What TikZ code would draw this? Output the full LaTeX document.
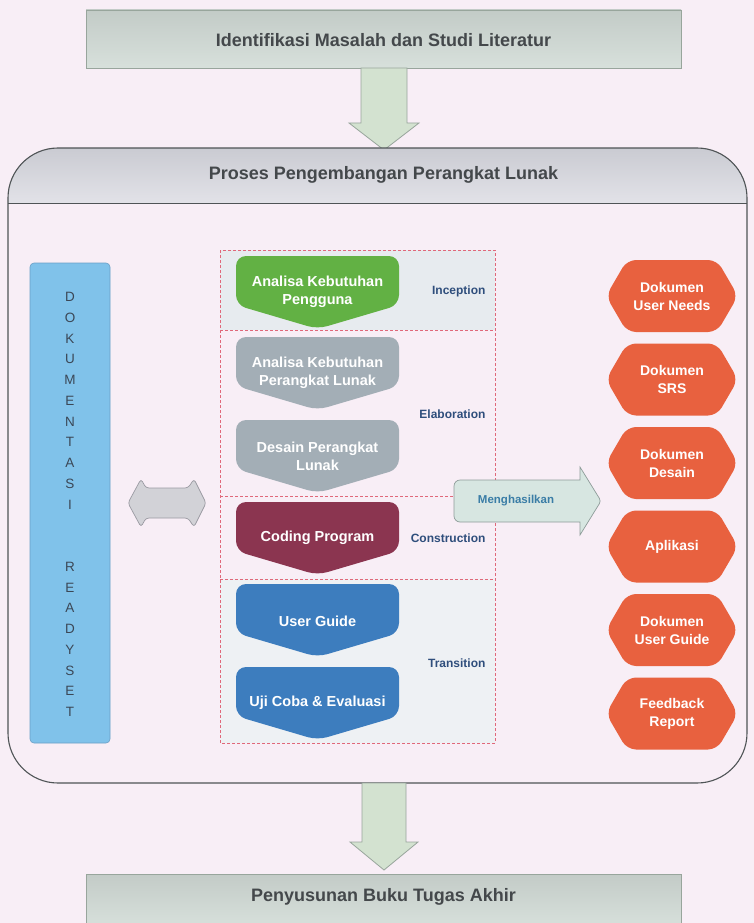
\documentclass[tikz,border=0pt]{standalone}
\usepackage{fontspec}
\setmainfont{Liberation Sans}
\usetikzlibrary{calc}

\definecolor{bgpink}{HTML}{F8EEF6}
\definecolor{boxtop}{HTML}{C3CBC7}
\definecolor{boxbot}{HTML}{D7E0DB}
\definecolor{arrowfill}{HTML}{D3E2D0}
\definecolor{arrowline}{HTML}{98A59C}
\definecolor{headtop}{HTML}{CACBD2}
\definecolor{headbot}{HTML}{E2E2E8}
\definecolor{framecol}{HTML}{4F5456}
\definecolor{headtext}{HTML}{44484B}
\definecolor{dashcol}{HTML}{E0687A}
\definecolor{phasefill}{HTML}{E7EBEF}
\definecolor{phasetext}{HTML}{2F4E7C}
\definecolor{chgreen}{HTML}{62B144}
\definecolor{chgray}{HTML}{A3AEB6}
\definecolor{chmaroon}{HTML}{8B3550}
\definecolor{chblue}{HTML}{3D7DBE}
\definecolor{hexorange}{HTML}{E8613F}
\definecolor{barblue}{HTML}{80C2EA}
\definecolor{barline}{HTML}{6A9FC6}
\definecolor{bartext}{HTML}{3B4756}
\definecolor{outfill}{HTML}{D7E6E1}
\definecolor{outline}{HTML}{8E9C99}
\definecolor{outtext}{HTML}{3A7DA6}
\definecolor{dblfill}{HTML}{D2D2D7}
\definecolor{dblline}{HTML}{9A9AA2}

\tikzset{
  titlebox/.style={draw=arrowline, line width=0.8pt, top color=boxtop, bottom color=boxbot},
  titletext/.style={font=\fontsize{18}{21}\selectfont\bfseries, text=headtext},
  blockarrow/.style={fill=arrowfill, draw=arrowline, line width=0.8pt},
  phaseline/.style={draw=dashcol, line width=0.6pt, dash pattern=on 3pt off 2pt},
  phaselabel/.style={anchor=east, font=\fontsize{12}{14}\selectfont\bfseries, text=phasetext},
  chevtext/.style={align=center, text=white, font=\fontsize{14.5}{18}\selectfont\bfseries},
  hextext/.style={align=center, text=white, font=\fontsize{14}{18}\selectfont\bfseries},
  chev/.pic={\path[pic actions, rounded corners=10pt]
     (-81.5,0) -- (81.5,0) -- (81.5,49) -- (0,73) -- (-81.5,49) -- cycle;},
  hexa/.pic={\path[pic actions, rounded corners=9pt]
     (-66,0) -- (-45,-36) -- (45,-36) -- (66,0) -- (45,36) -- (-45,36) -- cycle;},
}

\begin{document}
\begin{tikzpicture}[x=1pt, y=-1pt]
\useasboundingbox (0,0) rectangle (754,923);
\fill[bgpink] (0,0) rectangle (754,923);

% first stage and arrow into the process frame
\draw[titlebox] (86,10) rectangle (681,68);
\node[titletext] (identify) at (383.5,40) {Identifikasi Masalah dan Studi Literatur};
\draw[blockarrow] (361,68) -- (407,68) -- (407,123) -- (419,123) -- (384,150)
   -- (349,123) -- (361,123) -- cycle;

% process frame with its shaded header
\begin{scope}
  \clip[rounded corners=50pt] (8,148) rectangle (747,783);
  \fill[top color=headtop, bottom color=headbot] (8,148) rectangle (747,203);
\end{scope}
\draw[framecol, line width=1.1pt, rounded corners=50pt] (8,148) rectangle (747,783);
\draw[framecol, line width=1pt] (8,203) -- (747,203);
\node[titletext] (process) at (383.5,175) {Proses Pengembangan Perangkat Lunak};

% phase regions
\fill[phasefill] (220,250) rectangle (495,330);
\fill[phasefill!70!white] (220,579) rectangle (495,743);
\draw[phaseline] (220,250) rectangle (495,743);
\draw[phaseline] (220,330) -- (495,330);
\draw[phaseline] (220,496) -- (495,496);
\draw[phaseline] (220,579) -- (495,579);

% activities
\pic[fill=chgreen] at (317.5,256) {chev};
\pic[fill=chgray] at (317.5,337) {chev};
\pic[fill=chgray] at (317.5,420) {chev};
\pic[fill=chmaroon] at (317.5,502) {chev};
\pic[fill=chblue] at (317.5,584) {chev};
\pic[fill=chblue] at (317.5,667) {chev};

\node[chevtext] (needs) at (317.5,292) {Analisa Kebutuhan\\Pengguna};
\node[chevtext] (srsact) at (317.5,373) {Analisa Kebutuhan\\Perangkat Lunak};
\node[chevtext] (design) at (317.5,456) {Desain Perangkat\\Lunak};
\node[chevtext] (coding) at (317.5,538) {Coding Program};
\node[chevtext] (guide) at (317.5,621) {User Guide};
\node[chevtext] (test) at (317.5,703) {Uji Coba \& Evaluasi};

\node[phaselabel] (inception) at (489,291) {Inception};
\node[phaselabel] (elaboration) at (489,414) {Elaboration};
\node[phaselabel] (construction) at (489,538) {Construction};
\node[phaselabel] (transition) at (489,663) {Transition};

% documentation bar
\draw[fill=barblue, draw=barline, line width=0.6pt, rounded corners=4pt] (30,263) rectangle (110,743);
\node[align=center, text=bartext, font=\fontsize{13.5}{20.75}\selectfont] (readyset) at (70,504.5)
  {D\\O\\K\\U\\M\\E\\N\\T\\A\\S\\I\\\mbox{}\\\mbox{}\\R\\E\\A\\D\\Y\\S\\E\\T};

% two-way link between documentation and activities
\draw[fill=dblfill, draw=dblline, line width=0.7pt, rounded corners=3pt]
  (128,503) -- (141,479) -- (146,488) -- (188,488) -- (194,479) -- (206,503)
  -- (194,527) -- (188,518) -- (146,518) -- (141,527) -- cycle;

% output arrow
\draw[fill=outfill, draw=outline, line width=0.7pt]
  (460,480) -- (580,480) -- (580,467) [rounded corners=3pt] -- (601,501) [sharp corners]
  -- (580,535) -- (580,522) -- (460,522) [rounded corners=6pt] -- (454,522) -- (454,480) [sharp corners] -- cycle;
\node[font=\fontsize{11.5}{13}\selectfont\bfseries, text=outtext] (produce) at (516,501) {Menghasilkan};

% deliverables
\pic[fill=hexorange] at (672,296) {hexa};
\pic[fill=hexorange] at (672,379.5) {hexa};
\pic[fill=hexorange] at (672,463) {hexa};
\pic[fill=hexorange] at (672,546.5) {hexa};
\pic[fill=hexorange] at (672,630) {hexa};
\pic[fill=hexorange] at (672,713.5) {hexa};
\node[hextext] (doc1) at (672,296) {Dokumen\\User Needs};
\node[hextext] (doc2) at (672,379.5) {Dokumen\\SRS};
\node[hextext] (doc3) at (672,463) {Dokumen\\Desain};
\node[hextext] (doc4) at (672,546.5) {Aplikasi};
\node[hextext] (doc5) at (672,630) {Dokumen\\User Guide};
\node[hextext] (doc6) at (672,713.5) {Feedback\\Report};

% arrow to the final stage
\draw[blockarrow] (362,783) -- (406,783) -- (406,842) -- (418,842) -- (384,870)
   -- (350,842) -- (362,842) -- cycle;
\draw[titlebox] (86,874) rectangle (681,926);
\node[titletext] (book) at (383.5,897) {Penyusunan Buku Tugas Akhir};
\end{tikzpicture}
\end{document}
